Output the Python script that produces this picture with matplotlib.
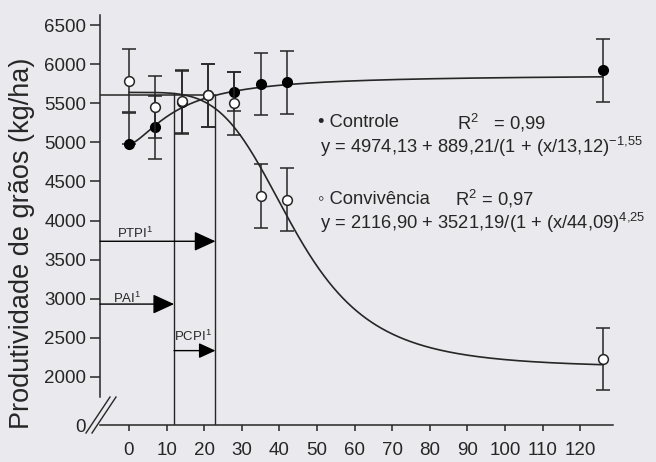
import numpy as np
import matplotlib
matplotlib.use('Agg')
import matplotlib.pyplot as plt

plt.rcParams['font.family'] = ['Liberation Sans', 'DejaVu Sans']
plt.rcParams['mathtext.fontset'] = 'custom'
plt.rcParams['mathtext.rm'] = 'Liberation Sans'
plt.rcParams['mathtext.it'] = 'Liberation Sans'
plt.rcParams['mathtext.default'] = 'regular'

# ----- data -----
days = [0, 7, 14, 21, 28, 35, 42, 126]

ctrl_y = [4975, 5190, 5510, 5600, 5645, 5745, 5770, 5920]
ctrl_err_low = [0, 400, 400, 400, 250, 395, 405, 400]
ctrl_err_high = [400, 400, 400, 400, 250, 395, 395, 405]

conv_y = [5790, 5450, 5525, 5600, 5500, 4310, 4265, 2230]
conv_err = [400, 400, 400, 400, 400, 410, 405, 400]

# fitted models printed on the chart: y = a + b / (1 + (x/c)^d)
ctrl_params = [4974.13, 889.21, 13.12, -1.55]
conv_params = [2116.90, 3521.19, 44.09, 4.25]

x_ticks = list(range(0, 121, 10))
y_ticks = [2000, 2500, 3000, 3500, 4000, 4500, 5000, 5500, 6000, 6500]

# periods (days) and reference level
pai_day = 12
ptpi_day = 23
ref_level = 5605
ptpi_level = 3735
pai_level = 2932
pcpi_level = 2337

bg = '#eaeaee'
ink = '#262626'

x_min, x_max = -7.7, 128.7
y_min, y_max = 1386, 6628


def model(x, p):
    a, b, c, d = p
    return a + b / (1 + (x / c) ** d)


fig = plt.figure(figsize=(6.56, 4.62), dpi=100, facecolor=bg)
ax = fig.add_axes([100 / 656, 37 / 462, 513 / 656, 410 / 462])
ax.set_facecolor(bg)
ax.set_xlim(x_min, x_max)
ax.set_ylim(y_min, y_max)

for s in ['top', 'right']:
    ax.spines[s].set_visible(False)
ax.spines['left'].set_bounds(1745, y_max)
ax.spines['left'].set_color(ink)
ax.spines['bottom'].set_color(ink)
ax.spines['left'].set_linewidth(1.1)
ax.spines['bottom'].set_linewidth(1.1)

# model curves
xs = np.linspace(0.05, 126, 400)
ax.plot(xs, model(xs, ctrl_params), color=ink, lw=1.2, zorder=2)
ax.plot(xs, model(xs, conv_params), color=ink, lw=1.2, zorder=2)

# reference lines
ax.plot([x_min, ptpi_day], [ref_level, ref_level], color=ink, lw=1.1, zorder=2)
ax.plot([pai_day, pai_day], [y_min, ref_level + 30], color=ink, lw=1.0, zorder=2)
ax.plot([ptpi_day, ptpi_day], [y_min, ref_level], color=ink, lw=1.0, zorder=2)

# arrows
head = '-|>,head_length=1.2,head_width=0.55'
ax.annotate('', xy=(ptpi_day, ptpi_level), xytext=(x_min, ptpi_level),
            arrowprops=dict(arrowstyle=head, mutation_scale=11, lw=1.0,
                            color='black', shrinkA=0, shrinkB=0))
ax.annotate('', xy=(pai_day, pai_level), xytext=(x_min, pai_level),
            arrowprops=dict(arrowstyle=head, mutation_scale=11, lw=1.0,
                            color='black', shrinkA=0, shrinkB=0))
ax.annotate('', xy=(ptpi_day, pcpi_level), xytext=(pai_day, pcpi_level),
            arrowprops=dict(arrowstyle=head, mutation_scale=8.5, lw=1.0,
                            color='black', shrinkA=0, shrinkB=0))
ax.text(1.6, 3841, 'PTPI$^1$', fontsize=9.5, ha='center', va='center', color=ink)
ax.text(-0.5, 3010, 'PAI$^1$', fontsize=9.5, ha='center', va='center', color=ink)
ax.text(17, 2524, 'PCPI$^1$', fontsize=9.5, ha='center', va='center', color=ink)

# data with error bars
ax.errorbar(days, ctrl_y, yerr=[ctrl_err_low, ctrl_err_high], fmt='o', color=ink,
            ms=7, mfc='black', mec='black', ecolor=ink, elinewidth=1.1,
            capsize=5, capthick=1.1, zorder=3)
ax.errorbar(days, conv_y, yerr=conv_err, fmt='o', color=ink,
            ms=7, mfc='white', mec=ink, mew=1.1, ecolor=ink, elinewidth=1.1,
            capsize=5, capthick=1.1, zorder=4)

# ticks
ax.set_xticks(x_ticks)
ax.set_xticklabels([str(t) for t in x_ticks])
ax.set_yticks([y_min] + y_ticks)
ax.set_yticklabels(['0'] + [str(t) for t in y_ticks])
ax.yaxis.get_major_ticks()[0].tick1line.set_visible(False)
ax.tick_params(axis='x', direction='out', length=4, width=1.1, pad=8,
               labelsize=13.5, colors=ink)
ax.tick_params(axis='y', direction='out', length=7, width=1.1, pad=3,
               labelsize=13.5, colors=ink)

# axis break marks
for dx in (0, 6):
    ax.plot([(86 + dx) / 656, (110 + dx) / 656], [1 - 433 / 462, 1 - 397 / 462],
            color=ink, lw=1.0, transform=fig.transFigure, clip_on=False)

fig.text(22 / 656, 1 - 243 / 462, 'Produtividade de grãos (kg/ha)', rotation=90,
         ha='center', va='center', fontsize=19.5, color=ink)

# equations
fs = 13.2
fig.text(318 / 656, 1 - 123 / 462, '• Controle', fontsize=fs, ha='left', va='center', color=ink)
fig.text(457 / 656, 1 - 123 / 462, 'R$^2$   = 0,99', fontsize=fs, ha='left', va='center', color=ink)
fig.text(320 / 656, 1 - 147 / 462, 'y = 4974,13 + 889,21/(1 + (x/13,12)$^{-1{,}55}$',
         fontsize=fs, ha='left', va='center', color=ink)
fig.text(318 / 656, 1 - 199 / 462, '◦ Convivência', fontsize=fs, ha='left', va='center', color=ink)
fig.text(455 / 656, 1 - 199 / 462, 'R$^2$ = 0,97', fontsize=fs, ha='left', va='center', color=ink)
fig.text(320 / 656, 1 - 223 / 462, 'y = 2116,90 + 3521,19/(1 + (x/44,09)$^{4{,}25}$',
         fontsize=fs, ha='left', va='center', color=ink)

fig.savefig('out.png', dpi=100, facecolor=bg)
